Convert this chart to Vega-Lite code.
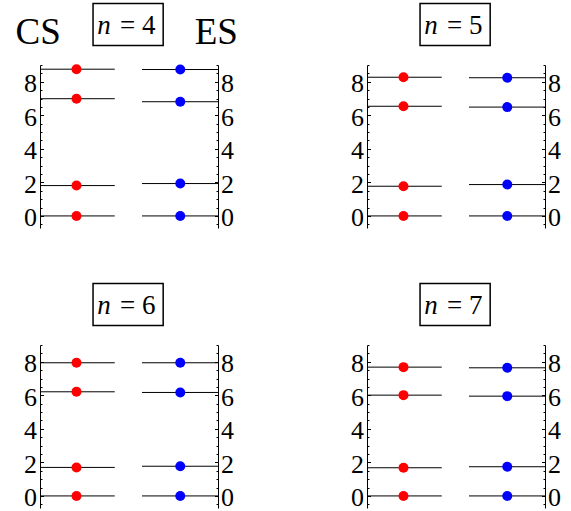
{
  "$schema": "https://vega.github.io/schema/vega-lite/v6.json",
  "padding": {"left": 15, "top": 2, "right": 0, "bottom": 0},
  "datasets": {
    "levels": [
      {"n": 4, "g": "CS", "E": 0}, {"n": 4, "g": "CS", "E": 1.81}, {"n": 4, "g": "CS", "E": 6.99}, {"n": 4, "g": "CS", "E": 8.75},
      {"n": 4, "g": "ES", "E": 0}, {"n": 4, "g": "ES", "E": 1.93}, {"n": 4, "g": "ES", "E": 6.81}, {"n": 4, "g": "ES", "E": 8.73},
      {"n": 5, "g": "CS", "E": 0}, {"n": 5, "g": "CS", "E": 1.77}, {"n": 5, "g": "CS", "E": 6.54}, {"n": 5, "g": "CS", "E": 8.27},
      {"n": 5, "g": "ES", "E": 0}, {"n": 5, "g": "ES", "E": 1.87}, {"n": 5, "g": "ES", "E": 6.49}, {"n": 5, "g": "ES", "E": 8.24},
      {"n": 6, "g": "CS", "E": 0}, {"n": 6, "g": "CS", "E": 1.70}, {"n": 6, "g": "CS", "E": 6.21}, {"n": 6, "g": "CS", "E": 7.94},
      {"n": 6, "g": "ES", "E": 0}, {"n": 6, "g": "ES", "E": 1.77}, {"n": 6, "g": "ES", "E": 6.17}, {"n": 6, "g": "ES", "E": 7.94},
      {"n": 7, "g": "CS", "E": 0}, {"n": 7, "g": "CS", "E": 1.68}, {"n": 7, "g": "CS", "E": 6.01}, {"n": 7, "g": "CS", "E": 7.68},
      {"n": 7, "g": "ES", "E": 0}, {"n": 7, "g": "ES", "E": 1.74}, {"n": 7, "g": "ES", "E": 5.95}, {"n": 7, "g": "ES", "E": 7.64}
    ]
  },
  "columns": 2,
  "bounds": "flush",
  "spacing": {"row": 117, "column": 149},
  "concat": [
    {
      "width": 178, "height": 163,
      "layer": [
        {"data": {"name": "levels"}, "transform": [{"filter": "datum.n == 4 && datum.g == 'CS'"}],
         "mark": {"type": "rule", "color": "black", "strokeWidth": 1},
         "encoding": {
           "x": {"datum": 0, "type": "quantitative", "scale": {"domain": [0, 1], "nice": false, "zero": false}, "axis": null},
           "x2": {"datum": 0.42},
           "y": {"field": "E", "type": "quantitative", "scale": {"domain": [-0.72, 9], "nice": false, "zero": false},
                 "axis": {"orient": "left", "title": null, "values": [0, 2, 4, 6, 8], "tickSize": -3.5, "labelPadding": 7, "labelOffset": 2, "labelFont": "Liberation Serif", "labelFontSize": 26}}}},
        {"data": {"name": "levels"}, "transform": [{"filter": "datum.n == 4 && datum.g == 'CS'"}],
         "mark": {"type": "circle", "color": "#ff0000", "opacity": 1, "size": 100},
         "encoding": {
           "x": {"datum": 0.205, "type": "quantitative"},
           "y": {"field": "E", "type": "quantitative", "scale": {"domain": [-0.72, 9], "nice": false, "zero": false},
                 "axis": {"orient": "left", "title": null, "values": [-0.5, 0, 0.5, 1, 1.5, 2, 2.5, 3, 3.5, 4, 4.5, 5, 5.5, 6, 6.5, 7, 7.5, 8, 8.5, 9], "tickSize": -2, "labels": false, "domain": false}}}},
        {"data": {"name": "levels"}, "transform": [{"filter": "datum.n == 4 && datum.g == 'ES'"}],
         "mark": {"type": "rule", "color": "black", "strokeWidth": 1},
         "encoding": {
           "x": {"datum": 0.573, "type": "quantitative"},
           "x2": {"datum": 1},
           "y": {"field": "E", "type": "quantitative", "scale": {"domain": [-0.72, 9], "nice": false, "zero": false},
                 "axis": {"orient": "right", "title": null, "values": [0, 2, 4, 6, 8], "tickSize": -3.5, "labelPadding": 6, "labelOffset": 2, "labelFont": "Liberation Serif", "labelFontSize": 26}}}},
        {"data": {"name": "levels"}, "transform": [{"filter": "datum.n == 4 && datum.g == 'ES'"}],
         "mark": {"type": "circle", "color": "#0000ff", "opacity": 1, "size": 100},
         "encoding": {
           "x": {"datum": 0.788, "type": "quantitative"},
           "y": {"field": "E", "type": "quantitative", "scale": {"domain": [-0.72, 9], "nice": false, "zero": false},
                 "axis": {"orient": "right", "title": null, "values": [-0.5, 0, 0.5, 1, 1.5, 2, 2.5, 3, 3.5, 4, 4.5, 5, 5.5, 6, 6.5, 7, 7.5, 8, 8.5, 9], "tickSize": -2, "labels": false, "domain": false}}}},
        {"data": {"values": [{}]},
         "mark": {"type": "rect", "fill": "white", "stroke": "black", "strokeWidth": 1.5},
         "encoding": {
           "x": {"datum": 0.298, "type": "quantitative"}, "x2": {"datum": 0.692},
           "y": {"datum": 10.17, "type": "quantitative", "scale": {"domain": [-0.72, 9], "nice": false, "zero": false}, "axis": null}, "y2": {"datum": 12.67}}},
        {"data": {"values": [{}]},
         "mark": {"type": "text", "text": "n", "font": "Liberation Serif", "fontStyle": "italic", "fontSize": 27, "align": "left", "baseline": "alphabetic", "color": "black"},
         "encoding": {
           "x": {"datum": 0.322, "type": "quantitative"},
           "y": {"datum": 10.83, "type": "quantitative", "scale": {"domain": [-0.72, 9], "nice": false, "zero": false}, "axis": null}}},
        {"data": {"values": [{}]},
         "mark": {"type": "text", "text": "= 4", "font": "Liberation Serif", "fontSize": 27, "align": "left", "baseline": "alphabetic", "color": "black"},
         "encoding": {
           "x": {"datum": 0.45, "type": "quantitative"},
           "y": {"datum": 10.83, "type": "quantitative", "scale": {"domain": [-0.72, 9], "nice": false, "zero": false}, "axis": null}}},
        {"data": {"values": [{}]},
         "mark": {"type": "text", "text": "CS", "font": "Liberation Serif", "fontSize": 37, "align": "center", "baseline": "alphabetic", "color": "black"},
         "encoding": {
           "x": {"datum": -0.01, "type": "quantitative"},
           "y": {"datum": 10.23, "type": "quantitative", "scale": {"domain": [-0.72, 9], "nice": false, "zero": false}, "axis": null}}},
        {"data": {"values": [{}]},
         "mark": {"type": "text", "text": "ES", "font": "Liberation Serif", "fontSize": 37, "align": "center", "baseline": "alphabetic", "color": "black"},
         "encoding": {
           "x": {"datum": 0.99, "type": "quantitative"},
           "y": {"datum": 10.23, "type": "quantitative", "scale": {"domain": [-0.72, 9], "nice": false, "zero": false}, "axis": null}}}
      ],
      "resolve": {"scale": {"y": "independent"}}
    },
    {
      "width": 178, "height": 163,
      "layer": [
        {"data": {"name": "levels"}, "transform": [{"filter": "datum.n == 5 && datum.g == 'CS'"}],
         "mark": {"type": "rule", "color": "black", "strokeWidth": 1},
         "encoding": {
           "x": {"datum": 0, "type": "quantitative", "scale": {"domain": [0, 1], "nice": false, "zero": false}, "axis": null},
           "x2": {"datum": 0.42},
           "y": {"field": "E", "type": "quantitative", "scale": {"domain": [-0.72, 9], "nice": false, "zero": false},
                 "axis": {"orient": "left", "title": null, "values": [0, 2, 4, 6, 8], "tickSize": -3.5, "labelPadding": 7, "labelOffset": 2, "labelFont": "Liberation Serif", "labelFontSize": 26}}}},
        {"data": {"name": "levels"}, "transform": [{"filter": "datum.n == 5 && datum.g == 'CS'"}],
         "mark": {"type": "circle", "color": "#ff0000", "opacity": 1, "size": 100},
         "encoding": {
           "x": {"datum": 0.205, "type": "quantitative"},
           "y": {"field": "E", "type": "quantitative", "scale": {"domain": [-0.72, 9], "nice": false, "zero": false},
                 "axis": {"orient": "left", "title": null, "values": [-0.5, 0, 0.5, 1, 1.5, 2, 2.5, 3, 3.5, 4, 4.5, 5, 5.5, 6, 6.5, 7, 7.5, 8, 8.5, 9], "tickSize": -2, "labels": false, "domain": false}}}},
        {"data": {"name": "levels"}, "transform": [{"filter": "datum.n == 5 && datum.g == 'ES'"}],
         "mark": {"type": "rule", "color": "black", "strokeWidth": 1},
         "encoding": {
           "x": {"datum": 0.573, "type": "quantitative"},
           "x2": {"datum": 1},
           "y": {"field": "E", "type": "quantitative", "scale": {"domain": [-0.72, 9], "nice": false, "zero": false},
                 "axis": {"orient": "right", "title": null, "values": [0, 2, 4, 6, 8], "tickSize": -3.5, "labelPadding": 6, "labelOffset": 2, "labelFont": "Liberation Serif", "labelFontSize": 26}}}},
        {"data": {"name": "levels"}, "transform": [{"filter": "datum.n == 5 && datum.g == 'ES'"}],
         "mark": {"type": "circle", "color": "#0000ff", "opacity": 1, "size": 100},
         "encoding": {
           "x": {"datum": 0.788, "type": "quantitative"},
           "y": {"field": "E", "type": "quantitative", "scale": {"domain": [-0.72, 9], "nice": false, "zero": false},
                 "axis": {"orient": "right", "title": null, "values": [-0.5, 0, 0.5, 1, 1.5, 2, 2.5, 3, 3.5, 4, 4.5, 5, 5.5, 6, 6.5, 7, 7.5, 8, 8.5, 9], "tickSize": -2, "labels": false, "domain": false}}}},
        {"data": {"values": [{}]},
         "mark": {"type": "rect", "fill": "white", "stroke": "black", "strokeWidth": 1.5},
         "encoding": {
           "x": {"datum": 0.298, "type": "quantitative"}, "x2": {"datum": 0.692},
           "y": {"datum": 10.17, "type": "quantitative", "scale": {"domain": [-0.72, 9], "nice": false, "zero": false}, "axis": null}, "y2": {"datum": 12.67}}},
        {"data": {"values": [{}]},
         "mark": {"type": "text", "text": "n", "font": "Liberation Serif", "fontStyle": "italic", "fontSize": 27, "align": "left", "baseline": "alphabetic", "color": "black"},
         "encoding": {
           "x": {"datum": 0.322, "type": "quantitative"},
           "y": {"datum": 10.83, "type": "quantitative", "scale": {"domain": [-0.72, 9], "nice": false, "zero": false}, "axis": null}}},
        {"data": {"values": [{}]},
         "mark": {"type": "text", "text": "= 5", "font": "Liberation Serif", "fontSize": 27, "align": "left", "baseline": "alphabetic", "color": "black"},
         "encoding": {
           "x": {"datum": 0.45, "type": "quantitative"},
           "y": {"datum": 10.83, "type": "quantitative", "scale": {"domain": [-0.72, 9], "nice": false, "zero": false}, "axis": null}}}
      ],
      "resolve": {"scale": {"y": "independent"}}
    },
    {
      "width": 178, "height": 163,
      "layer": [
        {"data": {"name": "levels"}, "transform": [{"filter": "datum.n == 6 && datum.g == 'CS'"}],
         "mark": {"type": "rule", "color": "black", "strokeWidth": 1},
         "encoding": {
           "x": {"datum": 0, "type": "quantitative", "scale": {"domain": [0, 1], "nice": false, "zero": false}, "axis": null},
           "x2": {"datum": 0.42},
           "y": {"field": "E", "type": "quantitative", "scale": {"domain": [-0.72, 9], "nice": false, "zero": false},
                 "axis": {"orient": "left", "title": null, "values": [0, 2, 4, 6, 8], "tickSize": -3.5, "labelPadding": 7, "labelOffset": 2, "labelFont": "Liberation Serif", "labelFontSize": 26}}}},
        {"data": {"name": "levels"}, "transform": [{"filter": "datum.n == 6 && datum.g == 'CS'"}],
         "mark": {"type": "circle", "color": "#ff0000", "opacity": 1, "size": 100},
         "encoding": {
           "x": {"datum": 0.205, "type": "quantitative"},
           "y": {"field": "E", "type": "quantitative", "scale": {"domain": [-0.72, 9], "nice": false, "zero": false},
                 "axis": {"orient": "left", "title": null, "values": [-0.5, 0, 0.5, 1, 1.5, 2, 2.5, 3, 3.5, 4, 4.5, 5, 5.5, 6, 6.5, 7, 7.5, 8, 8.5, 9], "tickSize": -2, "labels": false, "domain": false}}}},
        {"data": {"name": "levels"}, "transform": [{"filter": "datum.n == 6 && datum.g == 'ES'"}],
         "mark": {"type": "rule", "color": "black", "strokeWidth": 1},
         "encoding": {
           "x": {"datum": 0.573, "type": "quantitative"},
           "x2": {"datum": 1},
           "y": {"field": "E", "type": "quantitative", "scale": {"domain": [-0.72, 9], "nice": false, "zero": false},
                 "axis": {"orient": "right", "title": null, "values": [0, 2, 4, 6, 8], "tickSize": -3.5, "labelPadding": 6, "labelOffset": 2, "labelFont": "Liberation Serif", "labelFontSize": 26}}}},
        {"data": {"name": "levels"}, "transform": [{"filter": "datum.n == 6 && datum.g == 'ES'"}],
         "mark": {"type": "circle", "color": "#0000ff", "opacity": 1, "size": 100},
         "encoding": {
           "x": {"datum": 0.788, "type": "quantitative"},
           "y": {"field": "E", "type": "quantitative", "scale": {"domain": [-0.72, 9], "nice": false, "zero": false},
                 "axis": {"orient": "right", "title": null, "values": [-0.5, 0, 0.5, 1, 1.5, 2, 2.5, 3, 3.5, 4, 4.5, 5, 5.5, 6, 6.5, 7, 7.5, 8, 8.5, 9], "tickSize": -2, "labels": false, "domain": false}}}},
        {"data": {"values": [{}]},
         "mark": {"type": "rect", "fill": "white", "stroke": "black", "strokeWidth": 1.5},
         "encoding": {
           "x": {"datum": 0.298, "type": "quantitative"}, "x2": {"datum": 0.692},
           "y": {"datum": 10.17, "type": "quantitative", "scale": {"domain": [-0.72, 9], "nice": false, "zero": false}, "axis": null}, "y2": {"datum": 12.67}}},
        {"data": {"values": [{}]},
         "mark": {"type": "text", "text": "n", "font": "Liberation Serif", "fontStyle": "italic", "fontSize": 27, "align": "left", "baseline": "alphabetic", "color": "black"},
         "encoding": {
           "x": {"datum": 0.322, "type": "quantitative"},
           "y": {"datum": 10.83, "type": "quantitative", "scale": {"domain": [-0.72, 9], "nice": false, "zero": false}, "axis": null}}},
        {"data": {"values": [{}]},
         "mark": {"type": "text", "text": "= 6", "font": "Liberation Serif", "fontSize": 27, "align": "left", "baseline": "alphabetic", "color": "black"},
         "encoding": {
           "x": {"datum": 0.45, "type": "quantitative"},
           "y": {"datum": 10.83, "type": "quantitative", "scale": {"domain": [-0.72, 9], "nice": false, "zero": false}, "axis": null}}}
      ],
      "resolve": {"scale": {"y": "independent"}}
    },
    {
      "width": 178, "height": 163,
      "layer": [
        {"data": {"name": "levels"}, "transform": [{"filter": "datum.n == 7 && datum.g == 'CS'"}],
         "mark": {"type": "rule", "color": "black", "strokeWidth": 1},
         "encoding": {
           "x": {"datum": 0, "type": "quantitative", "scale": {"domain": [0, 1], "nice": false, "zero": false}, "axis": null},
           "x2": {"datum": 0.42},
           "y": {"field": "E", "type": "quantitative", "scale": {"domain": [-0.72, 9], "nice": false, "zero": false},
                 "axis": {"orient": "left", "title": null, "values": [0, 2, 4, 6, 8], "tickSize": -3.5, "labelPadding": 7, "labelOffset": 2, "labelFont": "Liberation Serif", "labelFontSize": 26}}}},
        {"data": {"name": "levels"}, "transform": [{"filter": "datum.n == 7 && datum.g == 'CS'"}],
         "mark": {"type": "circle", "color": "#ff0000", "opacity": 1, "size": 100},
         "encoding": {
           "x": {"datum": 0.205, "type": "quantitative"},
           "y": {"field": "E", "type": "quantitative", "scale": {"domain": [-0.72, 9], "nice": false, "zero": false},
                 "axis": {"orient": "left", "title": null, "values": [-0.5, 0, 0.5, 1, 1.5, 2, 2.5, 3, 3.5, 4, 4.5, 5, 5.5, 6, 6.5, 7, 7.5, 8, 8.5, 9], "tickSize": -2, "labels": false, "domain": false}}}},
        {"data": {"name": "levels"}, "transform": [{"filter": "datum.n == 7 && datum.g == 'ES'"}],
         "mark": {"type": "rule", "color": "black", "strokeWidth": 1},
         "encoding": {
           "x": {"datum": 0.573, "type": "quantitative"},
           "x2": {"datum": 1},
           "y": {"field": "E", "type": "quantitative", "scale": {"domain": [-0.72, 9], "nice": false, "zero": false},
                 "axis": {"orient": "right", "title": null, "values": [0, 2, 4, 6, 8], "tickSize": -3.5, "labelPadding": 6, "labelOffset": 2, "labelFont": "Liberation Serif", "labelFontSize": 26}}}},
        {"data": {"name": "levels"}, "transform": [{"filter": "datum.n == 7 && datum.g == 'ES'"}],
         "mark": {"type": "circle", "color": "#0000ff", "opacity": 1, "size": 100},
         "encoding": {
           "x": {"datum": 0.788, "type": "quantitative"},
           "y": {"field": "E", "type": "quantitative", "scale": {"domain": [-0.72, 9], "nice": false, "zero": false},
                 "axis": {"orient": "right", "title": null, "values": [-0.5, 0, 0.5, 1, 1.5, 2, 2.5, 3, 3.5, 4, 4.5, 5, 5.5, 6, 6.5, 7, 7.5, 8, 8.5, 9], "tickSize": -2, "labels": false, "domain": false}}}},
        {"data": {"values": [{}]},
         "mark": {"type": "rect", "fill": "white", "stroke": "black", "strokeWidth": 1.5},
         "encoding": {
           "x": {"datum": 0.298, "type": "quantitative"}, "x2": {"datum": 0.692},
           "y": {"datum": 10.17, "type": "quantitative", "scale": {"domain": [-0.72, 9], "nice": false, "zero": false}, "axis": null}, "y2": {"datum": 12.67}}},
        {"data": {"values": [{}]},
         "mark": {"type": "text", "text": "n", "font": "Liberation Serif", "fontStyle": "italic", "fontSize": 27, "align": "left", "baseline": "alphabetic", "color": "black"},
         "encoding": {
           "x": {"datum": 0.322, "type": "quantitative"},
           "y": {"datum": 10.83, "type": "quantitative", "scale": {"domain": [-0.72, 9], "nice": false, "zero": false}, "axis": null}}},
        {"data": {"values": [{}]},
         "mark": {"type": "text", "text": "= 7", "font": "Liberation Serif", "fontSize": 27, "align": "left", "baseline": "alphabetic", "color": "black"},
         "encoding": {
           "x": {"datum": 0.45, "type": "quantitative"},
           "y": {"datum": 10.83, "type": "quantitative", "scale": {"domain": [-0.72, 9], "nice": false, "zero": false}, "axis": null}}}
      ],
      "resolve": {"scale": {"y": "independent"}}
    }
  ],
  "config": {
    "view": {"stroke": null},
    "axis": {"grid": false, "labelFont": "Liberation Serif", "labelFontSize": 26, "labelColor": "black", "tickColor": "black", "domainColor": "black", "tickWidth": 1, "domainWidth": 1}
  }
}
